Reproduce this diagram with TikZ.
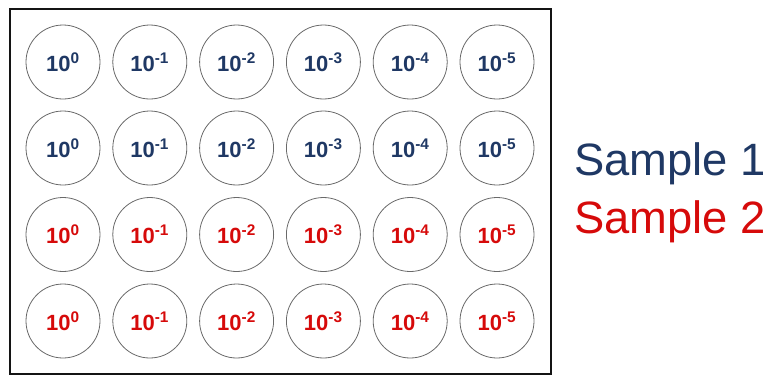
\documentclass[tikz,border=0pt]{standalone}
\usepackage{fontspec}
\setmainfont{Liberation Sans}
\usepackage{tikz}
\usetikzlibrary{positioning}
\usepackage{xcolor}
\definecolor{ink}{RGB}{20,20,20}
\definecolor{rim}{RGB}{105,105,105}
\definecolor{navy}{RGB}{31,56,100}
\definecolor{crim}{RGB}{214,10,10}
\tikzset{
  plate/.style={draw=ink,line width=1.3pt},
  well/.style={circle,draw=rim,line width=0.6pt,minimum size=55.5pt,
    inner sep=0pt,font=\fontsize{16.5}{18}\selectfont\bfseries},
  tag/.style={font=\fontsize{34}{40}\selectfont,anchor=base west,inner sep=0pt},
}
\begin{document}
\begin{tikzpicture}[x=0.75pt,y=-0.75pt]
  \useasboundingbox (0,0) rectangle (776,376);
  \draw[plate] (10,9) rectangle (551,374);

  % wells: rows 1-2 sample 1, rows 3-4 sample 2
  \foreach \r/\y/\c in {1/62/navy,2/148/navy,3/234.5/crim,4/321/crim}
    \foreach \k/\x/\e in {1/63/0,2/149.8/-1,3/236.6/-2,4/323.4/-3,5/410.2/-4,6/497/-5}
      \node[well,text=\c] (w\r\k) at (\x,\y) {10\textsuperscript{\e}};

  \node[tag,text=navy] (s1) at (574,175) {Sample 1};
  \node[tag,text=crim] (s2) at (574,233) {Sample 2};
\end{tikzpicture}
\end{document}
